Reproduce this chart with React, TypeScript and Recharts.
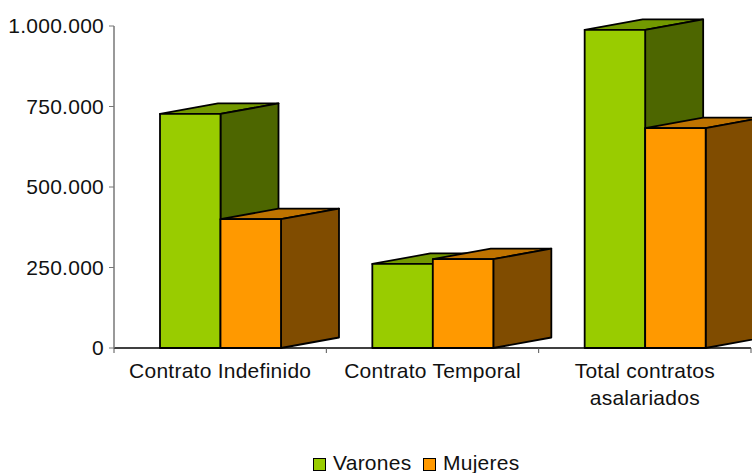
import React from "react";
import { BarChart, Bar, XAxis, YAxis, Legend } from "recharts";

const categories = ["Contrato Indefinido", "Contrato Temporal", "Total contratos asalariados"];
const categoryLines = [["Contrato Indefinido"], ["Contrato Temporal"], ["Total contratos", "asalariados"]];
const varones = [727000, 261000, 988000];
const mujeres = [400000, 276000, 683000];
const yTicks = [0, 250000, 500000, 750000, 1000000];

const data = categories.map((name, i) => ({ name, varones: varones[i], mujeres: mujeres[i] }));

const FONT = "'Liberation Sans', Arial, sans-serif";
const FS = 21;
const DX = 58;
const DY = 10.5;
const LS = "0.25px";

const box = (front: string, top: string, side: string) => (p: any) => {
  const { x, y, width: w, height: h } = p;
  const common = { stroke: "#000", strokeWidth: 1.8, strokeLinejoin: "round" as const };
  return (
    <g>
      <polygon points={`${x},${y} ${x + DX},${y - DY} ${x + w + DX},${y - DY} ${x + w},${y}`} fill={top} {...common} />
      <polygon points={`${x + w},${y} ${x + w + DX},${y - DY} ${x + w + DX},${y + h - DY} ${x + w},${y + h}`} fill={side} {...common} />
      <rect x={x} y={y} width={w} height={h} fill={front} {...common} />
    </g>
  );
};

const CatTick = (p: any) => {
  const band = p.width / categories.length;
  const lines = categoryLines[p.index] || [];
  const edge = p.x + band / 2;
  return (
    <g>
      <line x1={edge} x2={edge} y1={p.y} y2={p.y + 5} stroke="#555" />
      {p.index === 0 && <line x1={p.x - band / 2} x2={p.x - band / 2} y1={p.y} y2={p.y + 5} stroke="#555" />}
      <text
        textAnchor="middle"
        fill="#111"
        style={{ letterSpacing: LS, fontFamily: FONT, fontSize: FS }}
      >
        {lines.map((l, i) => (
          <tspan key={l} x={p.x} y={p.y + 30 + i * 27}>{l}</tspan>
        ))}
      </text>
    </g>
  );
};

const swatch = (left: number, color: string) => (
  <span
    style={{
      position: "absolute", left, top: 9, width: 11, height: 11,
      background: color, border: "1.5px solid #000",
    }}
  />
);
const label = (left: number, t: string) => (
  <span
    style={{
      position: "absolute", left, top: 2, fontFamily: FONT, fontSize: FS,
      letterSpacing: LS, color: "#111", lineHeight: "24px", whiteSpace: "nowrap",
    }}
  >
    {t}
  </span>
);

const LegendBox = () => (
  <div style={{ position: "relative", width: 752, height: 24 }}>
    {swatch(313, "#99CC00")}
    {label(333, "Varones")}
    {swatch(423, "#FF9900")}
    {label(443, "Mujeres")}
  </div>
);

export default function App() {
  return (
    <div style={{ position: "absolute", left: 0, top: 0, width: 752, height: 473, overflow: "hidden", background: "#fff" }}>
      <BarChart
        width={752}
        height={473}
        data={data}
        margin={{ top: 26, right: 1, bottom: 0, left: 0 }}
        barSize={60.5}
        barGap={0}
        style={{ overflow: "hidden" }}
      >
        <XAxis
          dataKey="name"
          height={101}
          axisLine={{ stroke: "#000", strokeWidth: 1.5 }}
          tickLine={false}
          tickSize={0}
          tickMargin={0}
          interval={0}
          tick={<CatTick />}
        />
        <YAxis
          width={114}
          domain={[0, 1000000]}
          ticks={yTicks}
          interval={0}
          axisLine={{ stroke: "#777", strokeWidth: 1.5 }}
          tickLine={{ stroke: "#777", strokeWidth: 1 }}
          tickSize={5}
          tickMargin={5}
          tickFormatter={(v: number) => v.toLocaleString("de-DE")}
          tick={{ fontFamily: FONT, fontSize: FS, fill: "#111", letterSpacing: LS }}
        />
        <Legend content={<LegendBox />} wrapperStyle={{ left: 0, top: 449, bottom: "auto", width: 752, height: 24 }} />
        <Bar dataKey="varones" name="Varones" fill="#99CC00" isAnimationActive={false} shape={box("#99CC00", "#739900", "#4D6600")} />
        <Bar dataKey="mujeres" name="Mujeres" fill="#FF9900" isAnimationActive={false} shape={box("#FF9900", "#BF7300", "#804C00")} />
      </BarChart>
    </div>
  );
}
